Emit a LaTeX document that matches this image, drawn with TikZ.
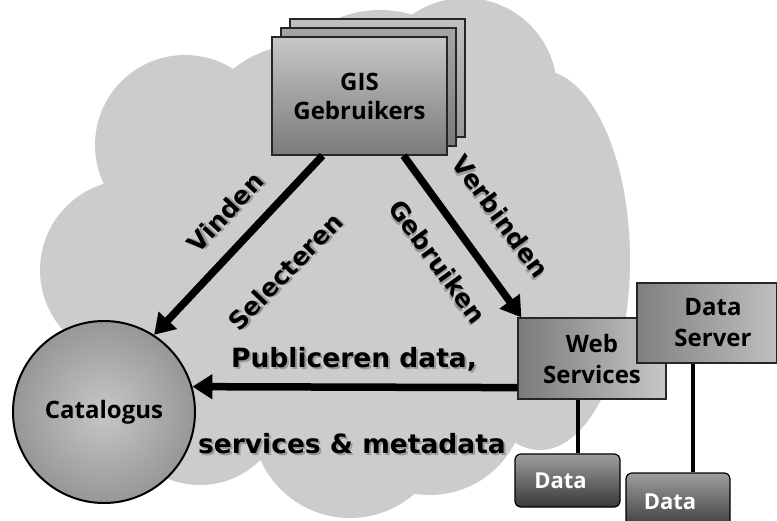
\documentclass[tikz,border=0pt]{standalone}
\usepackage{fontspec}
\usetikzlibrary{arrows.meta,calc}
\newfontfamily\nodefont{Open Sans}
\newfontfamily\lblfont{DejaVu Sans}
\newcommand\shd[1]{\leavevmode\rlap{\kern2pt\raisebox{-2pt}{\textcolor{black!40}{#1}}}#1}
\pgfdeclareradialshading{catshade}{\pgfpoint{0bp}{0bp}}{color(0bp)=(black!22); color(50bp)=(black!60)}
\begin{document}
\begin{tikzpicture}[x=1pt,y=-1pt,
  cloudc/.style={fill=black!20},
  gbox/.style={draw=black!85, line width=1.2pt, minimum width=175pt, minimum height=118pt, inner sep=0pt,
     align=center, font=\nodefont\bfseries\fontsize{24}{29}\selectfont},
  sbox/.style={draw=black!85, line width=1.2pt, inner sep=0pt, align=center,
     font=\nodefont\bfseries\fontsize{24}{31}\selectfont},
  dbox/.style={draw=black, line width=1.2pt, rounded corners=6pt, inner sep=0pt,
     top color=black!38, bottom color=black!78, text=white,
     font=\nodefont\bfseries\fontsize{22}{26}\selectfont},
  arr/.style={line width=7.5pt, -{Triangle[length=20pt,width=24pt]}},
  link/.style={line width=3.5pt},
  lbl/.style={inner sep=0pt, font=\lblfont\bfseries\fontsize{25}{30}\selectfont},
  lblb/.style={inner sep=0pt, font=\lblfont\bfseries\fontsize{26.5}{32}\selectfont}]
\useasboundingbox (0,0) rectangle (777,520);
% cloud
\fill[cloudc] (185,145) circle[radius=90pt];
\fill[cloudc] (130,270) circle[radius=90pt];
\fill[cloudc] (300,150) circle[radius=105pt];
\fill[cloudc] (380,120) circle[radius=110pt];
\fill[cloudc] (465,90) circle[radius=92pt];
\fill[cloudc] (540,260) ellipse[x radius=90pt, y radius=190pt];
\fill[cloudc] (430,400) circle[radius=95pt];
\fill[cloudc] (350,420) circle[radius=98pt];
\fill[cloudc] (200,400) circle[radius=85pt];
\fill[cloudc] (350,280) ellipse[x radius=230pt, y radius=190pt];
% GIS users stack
\node[gbox, top color=black!25, bottom color=black!40] (gis3) at (377.5,78) {};
\node[gbox, top color=black!35, bottom color=black!52] (gis2) at (368.5,87) {};
\node[gbox, top color=black!22, bottom color=black!52] (gis) at (359.5,96) {GIS\\Gebruikers};
% catalogue
\node[circle, draw=black, line width=2pt, minimum size=182pt, inner sep=0pt, shading=catshade,
  font=\nodefont\bfseries\fontsize{24}{29}\selectfont] (cat) at (104,412) {Catalogus};
% services
\node[sbox, minimum width=148pt, minimum height=81pt, left color=black!52, right color=black!22] (ws) at (592,358.5) {Web\\Services};
\node[sbox, minimum width=140pt, minimum height=80pt, left color=black!50, right color=black!25] (ds) at (707,323) {\hspace*{12pt}Data\\\hspace*{12pt}Server};
\node[dbox, minimum width=105pt, minimum height=53pt] (d1) at (567.5,480.5) {Data\hspace*{14pt}};
\node[dbox, minimum width=104pt, minimum height=57pt] (d2) at (678,501.5) {Data\hspace*{16pt}};
\draw[link] (ws.south -| 578,0) -- (d1.north -| 578,0);
\draw[link] (ds.south -| 693,0) -- (d2.north -| 693,0);
% arrows
\draw[arr] ($(gis.south west)!0.29!(gis.south east)$) -- (cat.57);
\draw[arr] ($(gis.south west)!0.75!(gis.south east)$) -- ($(ws.north west)+(4,0)$);
\draw[arr] ($(ws.south west)+(0,-12)$) -- (cat.16);
% labels
\node[lbl, rotate=47] (lvin) at (226,213) {\shd{Vinden}};
\node[lbl, rotate=46] (lsel) at (286,272) {\shd{Selecteren}};
\node[lbl, rotate=-54] (lgeb) at (437,262) {\shd{Gebruiken}};
\node[lbl, rotate=-54] (lver) at (500,217) {\shd{Verbinden}};
\node[lblb] (lpub) at (354,360) {\shd{Publiceren data,}};
\node[lblb] (lser) at (352,445) {\shd{services \& metadata}};
\end{tikzpicture}
\end{document}
